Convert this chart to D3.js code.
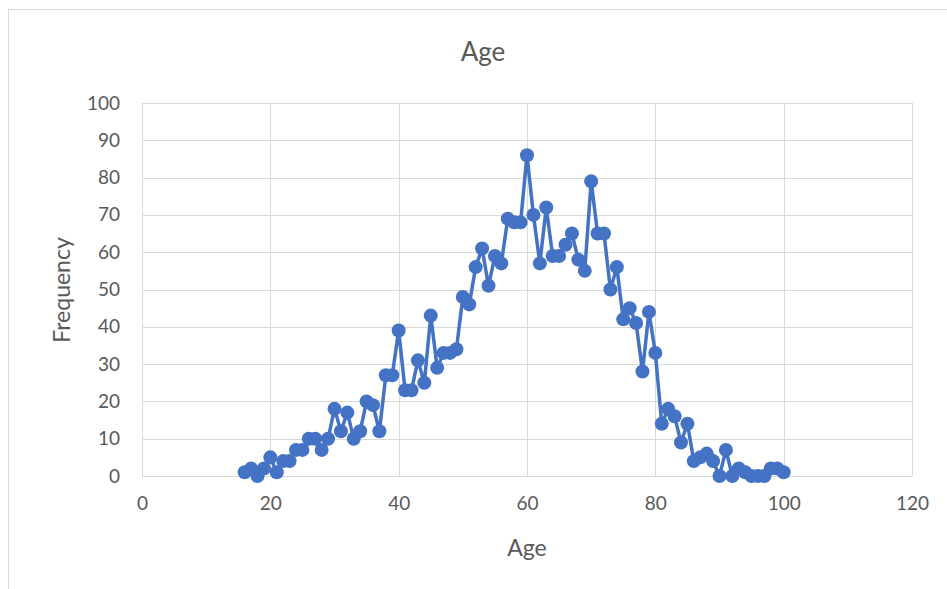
<!DOCTYPE html>
<html>
<head>
<meta charset="utf-8">
<script src="https://cdn.jsdelivr.net/npm/d3@7/dist/d3.min.js"></script>
<style>
  html, body { margin: 0; padding: 0; background: #fff; }
  svg { display: block; }
  text { font-family: Lato, "Open Sans", sans-serif; fill: #595959; }
</style>
</head>
<body>
<svg id="chart" width="947" height="589"></svg>
<script>
const ages = [16,17,18,19,20,21,22,23,24,25,26,27,28,29,30,31,32,33,34,35,36,37,38,39,40,
  41,42,43,44,45,46,47,48,49,50,51,52,53,54,55,56,57,58,59,60,61,62,63,64,65,66,67,68,69,70,
  71,72,73,74,75,76,77,78,79,80,81,82,83,84,85,86,87,88,89,90,91,92,93,94,95,96,97,98,99,100];
const frequency = [1,2,0,2,5,1,4,4,7,7,10,10,7,10,18,12,17,10,12,20,19,12,27,27,39,
  23,23,31,25,43,29,33,33,34,48,46,56,61,51,59,57,69,68,68,86,70,57,72,59,59,62,65,58,55,79,
  65,65,50,56,42,45,41,28,44,33,14,18,16,9,14,4,5,6,4,0,7,0,2,1,0,0,0,2,2,1];
const xTicks = [0,20,40,60,80,100,120];
const yTicks = [0,10,20,30,40,50,60,70,80,90,100];
const chartTitle = "Age";
const xTitle = "Age";
const yTitle = "Frequency";

(function () {
const data = ages.map((a, i) => ({age: a, freq: frequency[i]}));

const svg = d3.select("#chart");
const pLeft = 142, pRight = 912, pTop = 103, pBottom = 476;

// chart border
svg.append("rect").attr("x", 8.5).attr("y", 9.5).attr("width", 1000).attr("height", 700)
  .attr("fill", "none").attr("stroke", "#d9d9d9").attr("stroke-width", 1);

const x = d3.scaleLinear().domain([0, 120]).range([pLeft, pRight]);
const y = d3.scaleLinear().domain([0, 100]).range([pBottom, pTop]);

// gridlines
svg.append("g").selectAll("line").data(yTicks).join("line")
  .attr("x1", pLeft).attr("x2", pRight)
  .attr("y1", d => Math.round(y(d)) + 0.5).attr("y2", d => Math.round(y(d)) + 0.5)
  .attr("stroke", "#d9d9d9").attr("stroke-width", 1);
svg.append("g").selectAll("line").data(xTicks).join("line")
  .attr("y1", pTop).attr("y2", pBottom)
  .attr("x1", d => Math.round(x(d)) + 0.5).attr("x2", d => Math.round(x(d)) + 0.5)
  .attr("stroke", "#d9d9d9").attr("stroke-width", 1);

// axes (labels only)
const xAxis = d3.axisBottom(x).tickValues(xTicks).tickSize(0).tickPadding(21);
const gx = svg.append("g").attr("transform", `translate(0,${pBottom})`).call(xAxis);
gx.select(".domain").remove();
gx.selectAll("text").style("font-size", "19px").attr("fill", "#595959");

const yAxis = d3.axisLeft(y).tickValues(yTicks).tickSize(0).tickPadding(22);
const gy = svg.append("g").attr("transform", `translate(${pLeft},0)`).call(yAxis);
gy.select(".domain").remove();
gy.selectAll("text").style("font-size", "19px").attr("fill", "#595959");

// line
const line = d3.line().x(d => x(d.age)).y(d => y(d.freq));
svg.append("path").datum(data).attr("d", line)
  .attr("fill", "none").attr("stroke", "#4472C4").attr("stroke-width", 3.5)
  .attr("stroke-linejoin", "round");

svg.append("g").selectAll("circle").data(data).join("circle")
  .attr("cx", d => x(d.age)).attr("cy", d => y(d.freq)).attr("r", 7)
  .attr("fill", "#4472C4");

// titles
svg.append("text").attr("x", 483).attr("y", 61).attr("text-anchor", "middle")
  .style("font-size", "26px").text(chartTitle);
svg.append("text").attr("x", 527).attr("y", 556).attr("text-anchor", "middle")
  .style("font-size", "23px").text(xTitle);
svg.append("text").attr("transform", "translate(70,290) rotate(-90)").attr("text-anchor", "middle")
  .style("font-size", "23px").text(yTitle);
})();
</script>
</body>
</html>
